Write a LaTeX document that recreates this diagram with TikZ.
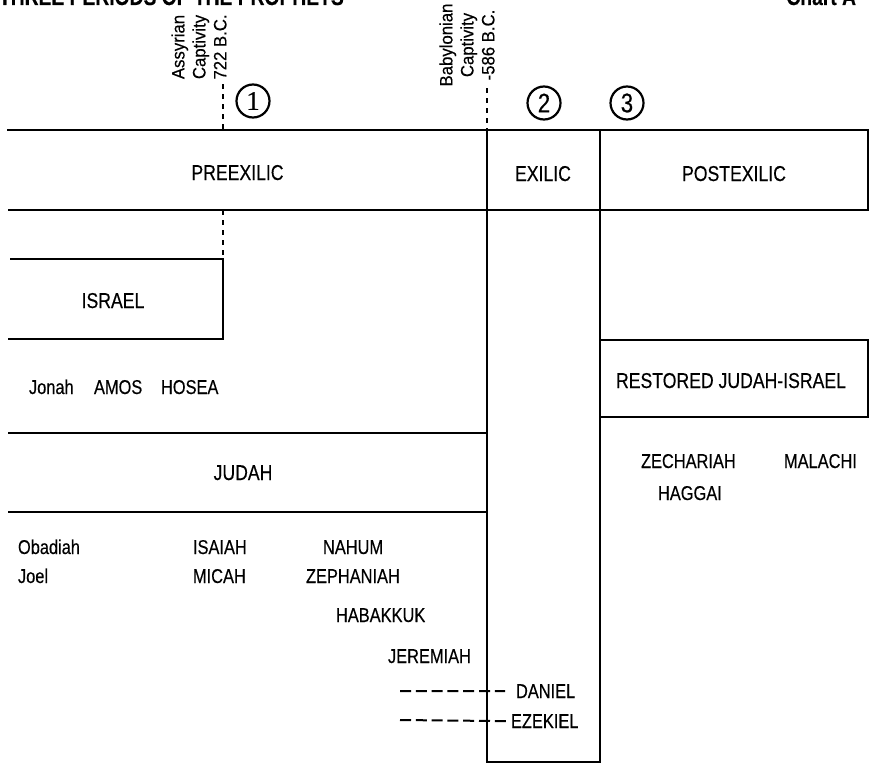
\documentclass[tikz,border=0pt]{standalone}
\usepackage{fontspec}
\setmainfont{Liberation Sans}[FakeStretch=0.82,FakeBold=0.35]
\newfontfamily\capfont{Liberation Sans}[FakeStretch=0.93,FakeBold=0.3]
\newfontfamily\numfont{Liberation Serif}[FakeBold=0.5]
\begin{document}
\begin{tikzpicture}[x=1bp,y=-1bp,line width=2bp,line cap=butt,
  lbl/.style={inner sep=0pt,anchor=base,font=\fontsize{21.5bp}{24bp}\selectfont},
  prophet/.style={inner sep=0pt,anchor=base west,font=\fontsize{20bp}{22bp}\selectfont},
  captext/.style={inner sep=0pt,rotate=90,anchor=center,align=center,font=\capfont\fontsize{18bp}{21bp}\selectfont},
  num/.style={circle,draw,line width=2.2bp,minimum size=33bp,inner sep=0pt,font=\fontsize{27bp}{28bp}\selectfont},
  titletext/.style={inner sep=0pt,font=\bfseries\fontsize{23.5bp}{26bp}\selectfont},
  vdash/.style={dash pattern=on 5bp off 5bp},
  hdash/.style={dash pattern=on 11bp off 4.8bp}]
\useasboundingbox (0,0) rectangle (870,764);
% title (cropped by the page edge, as in the reference)
\node[titletext,anchor=base west] (title) at (-2,5) {THREE PERIODS OF THE PROPHETS};
\node[titletext,anchor=base east] (chart) at (857,5) {Chart A};
% corners
\coordinate (tl) at (7,130);
\coordinate (tr) at (868,130);
\coordinate (bl) at (8,210);
\coordinate (br) at (868,210);
\coordinate (ex1) at (487,130);
\coordinate (ex2) at (487,762);
\coordinate (ex3) at (600,762);
\coordinate (ex4) at (600,130);
% period band
\draw (tl) -- (tr) -- (br) -- (bl);
\draw (ex1) -- (ex2) -- (ex3) -- (ex4);
% Israel box
\coordinate (is1) at (10,259);
\coordinate (is2) at (223,259);
\coordinate (is3) at (223,339);
\coordinate (is4) at (8,339);
\draw (is1) -- (is2) -- (is3) -- (is4);
% Judah band
\coordinate (ju1) at (8,433);
\coordinate (ju2) at (487,433);
\coordinate (ju3) at (8,512);
\coordinate (ju4) at (487,512);
\draw (ju1) -- (ju2);
\draw (ju3) -- (ju4);
% Restored box
\coordinate (re1) at (600,340);
\coordinate (re2) at (868,340);
\coordinate (re3) at (868,417);
\coordinate (re4) at (600,417);
\draw (re1) -- (re2) -- (re3) -- (re4);
% captivity labels and dashed lines
\node[captext] (assyr) at (199,47) {Assyrian\\Captivity\\722 B.C.};
\node[captext] (babyl) at (467,45) {Babylonian\\Captivity\\-586 B.C.};
\coordinate (a1) at (223,84);
\coordinate (a2) at (223,130);
\coordinate (a3) at (223,210);
\draw[vdash] (a1) -- (a2);
\draw[vdash] (a3) -- (is2);
\coordinate (b1) at (487,88);
\draw[vdash] (b1) -- (ex1);
% numbered circles
\node[num] (n1) at (253,101) {\numfont 1};
\node[num] (n2) at (544,103) {2};
\node[num] (n3) at (627,103) {3};
% band labels
\node[lbl] (pre) at (237.5,180) {PREEXILIC};
\node[lbl] (exi) at (543,181) {EXILIC};
\node[lbl] (post) at (734,181) {POSTEXILIC};
\node[lbl] (isr) at (113,308) {ISRAEL};
\node[lbl] (jud) at (243,480) {JUDAH};
\node[lbl] (rest) at (731,388) {RESTORED JUDAH-ISRAEL};
% prophets
\node[prophet] (jonah) at (28,394) {Jonah};
\node[prophet] (amos) at (93,394) {AMOS};
\node[prophet] (hosea) at (160,394) {HOSEA};
\node[prophet] (obad) at (17,554) {Obadiah};
\node[prophet] (joel) at (17,583) {Joel};
\node[prophet] (isaiah) at (192,554) {ISAIAH};
\node[prophet] (micah) at (192,583) {MICAH};
\node[prophet] (nahum) at (322,554) {NAHUM};
\node[prophet] (zeph) at (305,583) {ZEPHANIAH};
\node[prophet] (hab) at (335,622) {HABAKKUK};
\node[prophet] (jer) at (387,663) {JEREMIAH};
\node[prophet] (dan) at (515,698) {DANIEL};
\node[prophet] (ezk) at (510,728) {EZEKIEL};
\node[prophet] (zech) at (640,468) {ZECHARIAH};
\node[prophet] (mal) at (783,468) {MALACHI};
\node[prophet] (hag) at (657,500) {HAGGAI};
% Daniel / Ezekiel dashed lines
\coordinate (d0) at (400,691);
\coordinate (e0) at (400,720);
\draw[hdash] (d0) -- ([xshift=-10bp]dan.west);
\draw[hdash] (e0) -- ([xshift=-4bp]ezk.west);
\end{tikzpicture}
\end{document}
